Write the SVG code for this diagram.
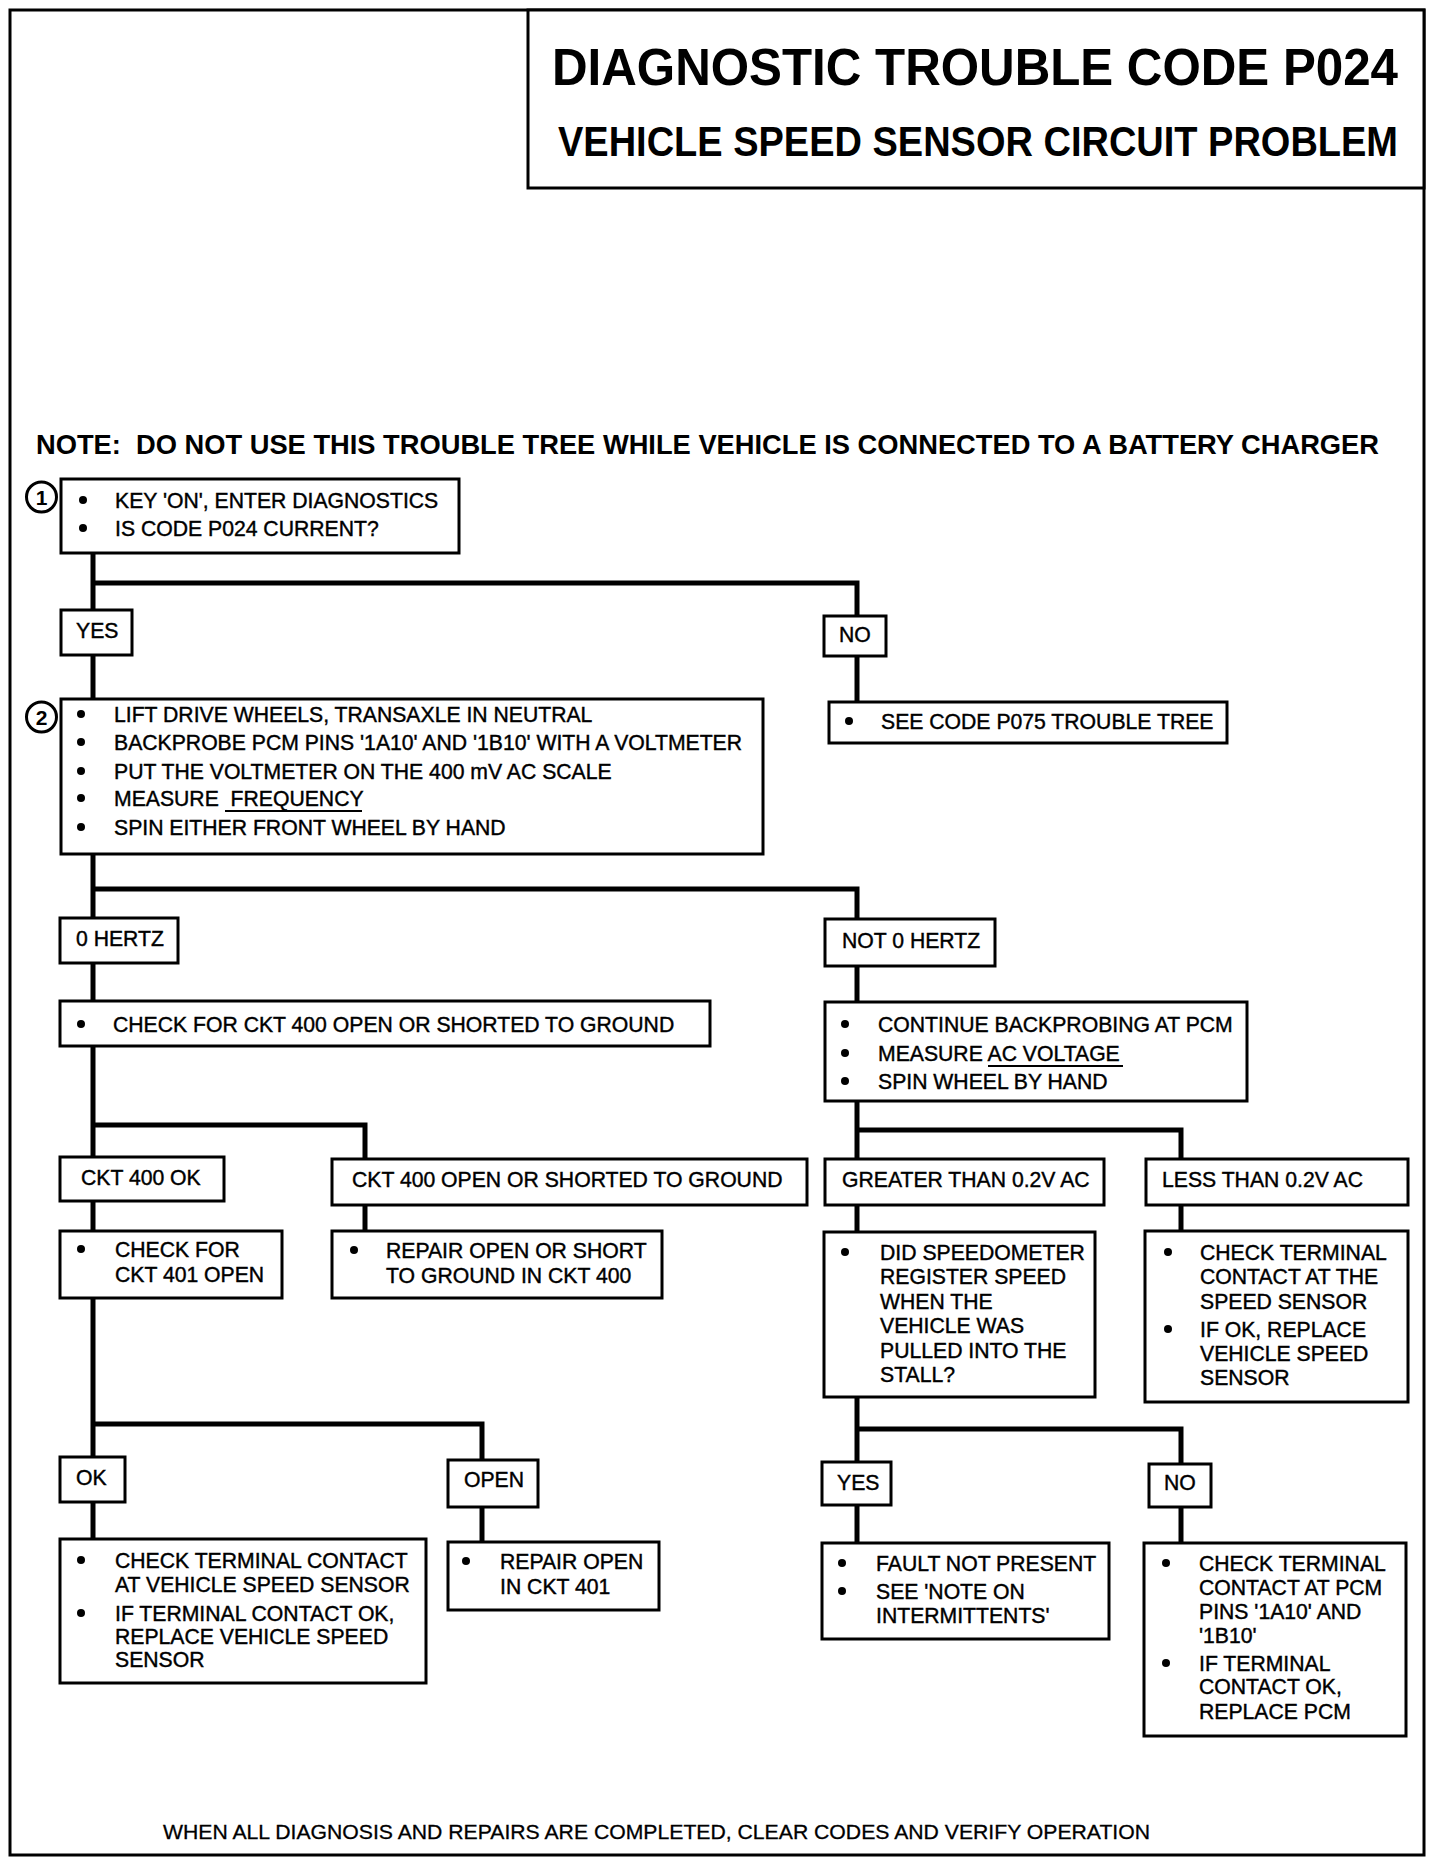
<svg xmlns="http://www.w3.org/2000/svg" width="1440" height="1864" viewBox="0 0 1440 1864">
<style>
.frame{fill:none;stroke:#000;stroke-width:3}
.box{fill:#fff;stroke:#000;stroke-width:3}
.wire{fill:none;stroke:#000;stroke-width:5;stroke-linejoin:miter;stroke-linecap:square}
text{font-family:"Liberation Sans",Arial,Helvetica,sans-serif;fill:#000}
.t{font-size:21.2px;stroke:#000;stroke-width:0.4}
.hb{font-weight:bold}
.ul{stroke:#000;stroke-width:2}
</style>
<defs>
<circle id="dot" r="4" fill="#000"/>
</defs>
<rect width="1440" height="1864" fill="#fff"/>
<rect class="frame" x="10" y="10" width="1414" height="1845"/>
<g id="title">
<rect class="box" x="528" y="10" width="896" height="178"/>
<text class="hb" transform="translate(552,85) scale(1,1.05)" x="0" y="0" font-size="49" textLength="846" lengthAdjust="spacingAndGlyphs">DIAGNOSTIC TROUBLE CODE P024</text>
<text class="hb" transform="translate(558,156) scale(1,1.1)" x="0" y="0" font-size="38" textLength="840" lengthAdjust="spacingAndGlyphs">VEHICLE SPEED SENSOR CIRCUIT PROBLEM</text>
</g>
<text id="note" class="hb" x="36" y="454" font-size="28" textLength="1343" lengthAdjust="spacingAndGlyphs" xml:space="preserve">NOTE:  DO NOT USE THIS TROUBLE TREE WHILE VEHICLE IS CONNECTED TO A BATTERY CHARGER</text>

<g id="connectors">
<path class="wire" d="M93,553 V610 M93,583 H857 V616"/>
<path class="wire" d="M93,655 V699"/>
<path class="wire" d="M857,656 V702"/>
<path class="wire" d="M93,854 V918 M93,889 H857 V919"/>
<path class="wire" d="M93,963 V1001"/>
<path class="wire" d="M857,966 V1002"/>
<path class="wire" d="M93,1046 V1157 M93,1125 H365 V1159"/>
<path class="wire" d="M93,1201 V1231"/>
<path class="wire" d="M365,1205 V1231"/>
<path class="wire" d="M93,1298 V1457 M93,1424 H482 V1460"/>
<path class="wire" d="M93,1502 V1539"/>
<path class="wire" d="M482,1507 V1542"/>
<path class="wire" d="M857,1101 V1159 M857,1130 H1181 V1159"/>
<path class="wire" d="M857,1205 V1232"/>
<path class="wire" d="M1181,1205 V1231"/>
<path class="wire" d="M857,1397 V1462 M857,1429 H1181 V1464"/>
<path class="wire" d="M857,1505 V1543"/>
<path class="wire" d="M1181,1507 V1543"/>
</g>

<g id="step1">
<circle cx="41.5" cy="497" r="15" fill="#fff" stroke="#000" stroke-width="3"/>
<text x="41.5" y="505" font-size="21" text-anchor="middle" class="hb">1</text>
<rect class="box" x="61" y="479" width="398" height="74"/>
<use href="#dot" x="83" y="500"/>
<text class="t" x="115" y="508">KEY 'ON', ENTER DIAGNOSTICS</text>
<use href="#dot" x="83" y="528"/>
<text class="t" x="115" y="536">IS CODE P024 CURRENT?</text>
</g>

<g id="yes1"><rect class="box" x="61" y="610" width="71" height="45"/><text class="t" x="76" y="638">YES</text></g>
<g id="no1"><rect class="box" x="824" y="616" width="62" height="40"/><text class="t" x="839" y="642">NO</text></g>
<g id="seecode"><rect class="box" x="829" y="702" width="398" height="41"/><use href="#dot" x="849" y="721"/><text class="t" x="881" y="729">SEE CODE P075 TROUBLE TREE</text></g>

<g id="step2">
<circle cx="41.5" cy="717" r="15" fill="#fff" stroke="#000" stroke-width="3"/>
<text x="41.5" y="725" font-size="21" text-anchor="middle" class="hb">2</text>
<rect class="box" x="61" y="699" width="702" height="155"/>
<use href="#dot" x="81" y="714"/><text class="t" x="114" y="722">LIFT DRIVE WHEELS, TRANSAXLE IN NEUTRAL</text>
<use href="#dot" x="81" y="742"/><text class="t" x="114" y="750">BACKPROBE PCM PINS '1A10' AND '1B10' WITH A VOLTMETER</text>
<use href="#dot" x="81" y="771"/><text class="t" x="114" y="779">PUT THE VOLTMETER ON THE 400 mV AC SCALE</text>
<use href="#dot" x="81" y="798"/><text class="t" x="114" y="806" xml:space="preserve">MEASURE  FREQUENCY</text>
<line class="ul" x1="225" y1="811" x2="362" y2="811"/>
<use href="#dot" x="81" y="827"/><text class="t" x="114" y="835">SPIN EITHER FRONT WHEEL BY HAND</text>
</g>

<g id="zerohz"><rect class="box" x="60" y="918" width="118" height="45"/><text class="t" x="76" y="946">0 HERTZ</text></g>
<g id="notzerohz"><rect class="box" x="825" y="919" width="170" height="47"/><text class="t" x="842" y="948">NOT 0 HERTZ</text></g>

<g id="check400"><rect class="box" x="60" y="1001" width="650" height="45"/><use href="#dot" x="81" y="1024"/><text class="t" x="113" y="1032">CHECK FOR CKT 400 OPEN OR SHORTED TO GROUND</text></g>

<g id="continue">
<rect class="box" x="825" y="1002" width="422" height="99"/>
<use href="#dot" x="845" y="1024"/><text class="t" x="878" y="1032">CONTINUE BACKPROBING AT PCM</text>
<use href="#dot" x="845" y="1053"/><text class="t" x="878" y="1061">MEASURE AC VOLTAGE</text>
<line class="ul" x1="988" y1="1066" x2="1123" y2="1066"/>
<use href="#dot" x="845" y="1081"/><text class="t" x="878" y="1089">SPIN WHEEL BY HAND</text>
</g>

<g id="ckt400ok"><rect class="box" x="60" y="1157" width="164" height="44"/><text class="t" x="81" y="1185">CKT 400 OK</text></g>
<g id="ckt400open"><rect class="box" x="332" y="1159" width="475" height="46"/><text class="t" x="352" y="1187">CKT 400 OPEN OR SHORTED TO GROUND</text></g>
<g id="greater"><rect class="box" x="825" y="1159" width="279" height="46"/><text class="t" x="842" y="1187">GREATER THAN 0.2V AC</text></g>
<g id="less"><rect class="box" x="1146" y="1159" width="262" height="46"/><text class="t" x="1162" y="1187">LESS THAN 0.2V AC</text></g>

<g id="check401">
<rect class="box" x="60" y="1231" width="222" height="67"/>
<use href="#dot" x="81" y="1249"/><text class="t" x="115" y="1257">CHECK FOR</text>
<text class="t" x="115" y="1282">CKT 401 OPEN</text>
</g>
<g id="repair400">
<rect class="box" x="332" y="1231" width="330" height="67"/>
<use href="#dot" x="354" y="1250"/><text class="t" x="386" y="1258">REPAIR OPEN OR SHORT</text>
<text class="t" x="386" y="1283">TO GROUND IN CKT 400</text>
</g>

<g id="didspeedo">
<rect class="box" x="824" y="1232" width="271" height="165"/>
<use href="#dot" x="845" y="1252"/>
<text class="t" x="880" y="1260">DID SPEEDOMETER</text>
<text class="t" x="880" y="1284">REGISTER SPEED</text>
<text class="t" x="880" y="1309">WHEN THE</text>
<text class="t" x="880" y="1333">VEHICLE WAS</text>
<text class="t" x="880" y="1358">PULLED INTO THE</text>
<text class="t" x="880" y="1382">STALL?</text>
</g>
<g id="checksensor">
<rect class="box" x="1145" y="1231" width="263" height="171"/>
<use href="#dot" x="1168" y="1252"/>
<text class="t" x="1200" y="1260">CHECK TERMINAL</text>
<text class="t" x="1200" y="1284">CONTACT AT THE</text>
<text class="t" x="1200" y="1309">SPEED SENSOR</text>
<use href="#dot" x="1168" y="1329"/>
<text class="t" x="1200" y="1337">IF OK, REPLACE</text>
<text class="t" x="1200" y="1361">VEHICLE SPEED</text>
<text class="t" x="1200" y="1385">SENSOR</text>
</g>

<g id="ok"><rect class="box" x="60" y="1457" width="65" height="45"/><text class="t" x="76" y="1485">OK</text></g>
<g id="open"><rect class="box" x="448" y="1460" width="90" height="47"/><text class="t" x="464" y="1487">OPEN</text></g>
<g id="yes2"><rect class="box" x="822" y="1462" width="69" height="43"/><text class="t" x="837" y="1490">YES</text></g>
<g id="no2"><rect class="box" x="1149" y="1464" width="62" height="43"/><text class="t" x="1164" y="1490">NO</text></g>

<g id="checkvss">
<rect class="box" x="60" y="1539" width="366" height="144"/>
<use href="#dot" x="81" y="1560"/>
<text class="t" x="115" y="1568">CHECK TERMINAL CONTACT</text>
<text class="t" x="115" y="1592">AT VEHICLE SPEED SENSOR</text>
<use href="#dot" x="81" y="1613"/>
<text class="t" x="115" y="1621">IF TERMINAL CONTACT OK,</text>
<text class="t" x="115" y="1644">REPLACE VEHICLE SPEED</text>
<text class="t" x="115" y="1667">SENSOR</text>
</g>
<g id="repair401">
<rect class="box" x="448" y="1542" width="211" height="68"/>
<use href="#dot" x="466" y="1561"/>
<text class="t" x="500" y="1569">REPAIR OPEN</text>
<text class="t" x="500" y="1594">IN CKT 401</text>
</g>
<g id="fault">
<rect class="box" x="822" y="1543" width="287" height="96"/>
<use href="#dot" x="842" y="1563"/>
<text class="t" x="876" y="1571">FAULT NOT PRESENT</text>
<use href="#dot" x="842" y="1591"/>
<text class="t" x="876" y="1599">SEE 'NOTE ON</text>
<text class="t" x="876" y="1623">INTERMITTENTS'</text>
</g>
<g id="checkpcm">
<rect class="box" x="1144" y="1543" width="262" height="193"/>
<use href="#dot" x="1166" y="1563"/>
<text class="t" x="1199" y="1571">CHECK TERMINAL</text>
<text class="t" x="1199" y="1595">CONTACT AT PCM</text>
<text class="t" x="1199" y="1619">PINS '1A10' AND</text>
<text class="t" x="1199" y="1643">'1B10'</text>
<use href="#dot" x="1166" y="1663"/>
<text class="t" x="1199" y="1671">IF TERMINAL</text>
<text class="t" x="1199" y="1694">CONTACT OK,</text>
<text class="t" x="1199" y="1719">REPLACE PCM</text>
</g>

<text id="footer" x="163" y="1839" font-size="21" textLength="987" lengthAdjust="spacingAndGlyphs" stroke="#000" stroke-width="0.3">WHEN ALL DIAGNOSIS AND REPAIRS ARE COMPLETED, CLEAR CODES AND VERIFY OPERATION</text>
</svg>
